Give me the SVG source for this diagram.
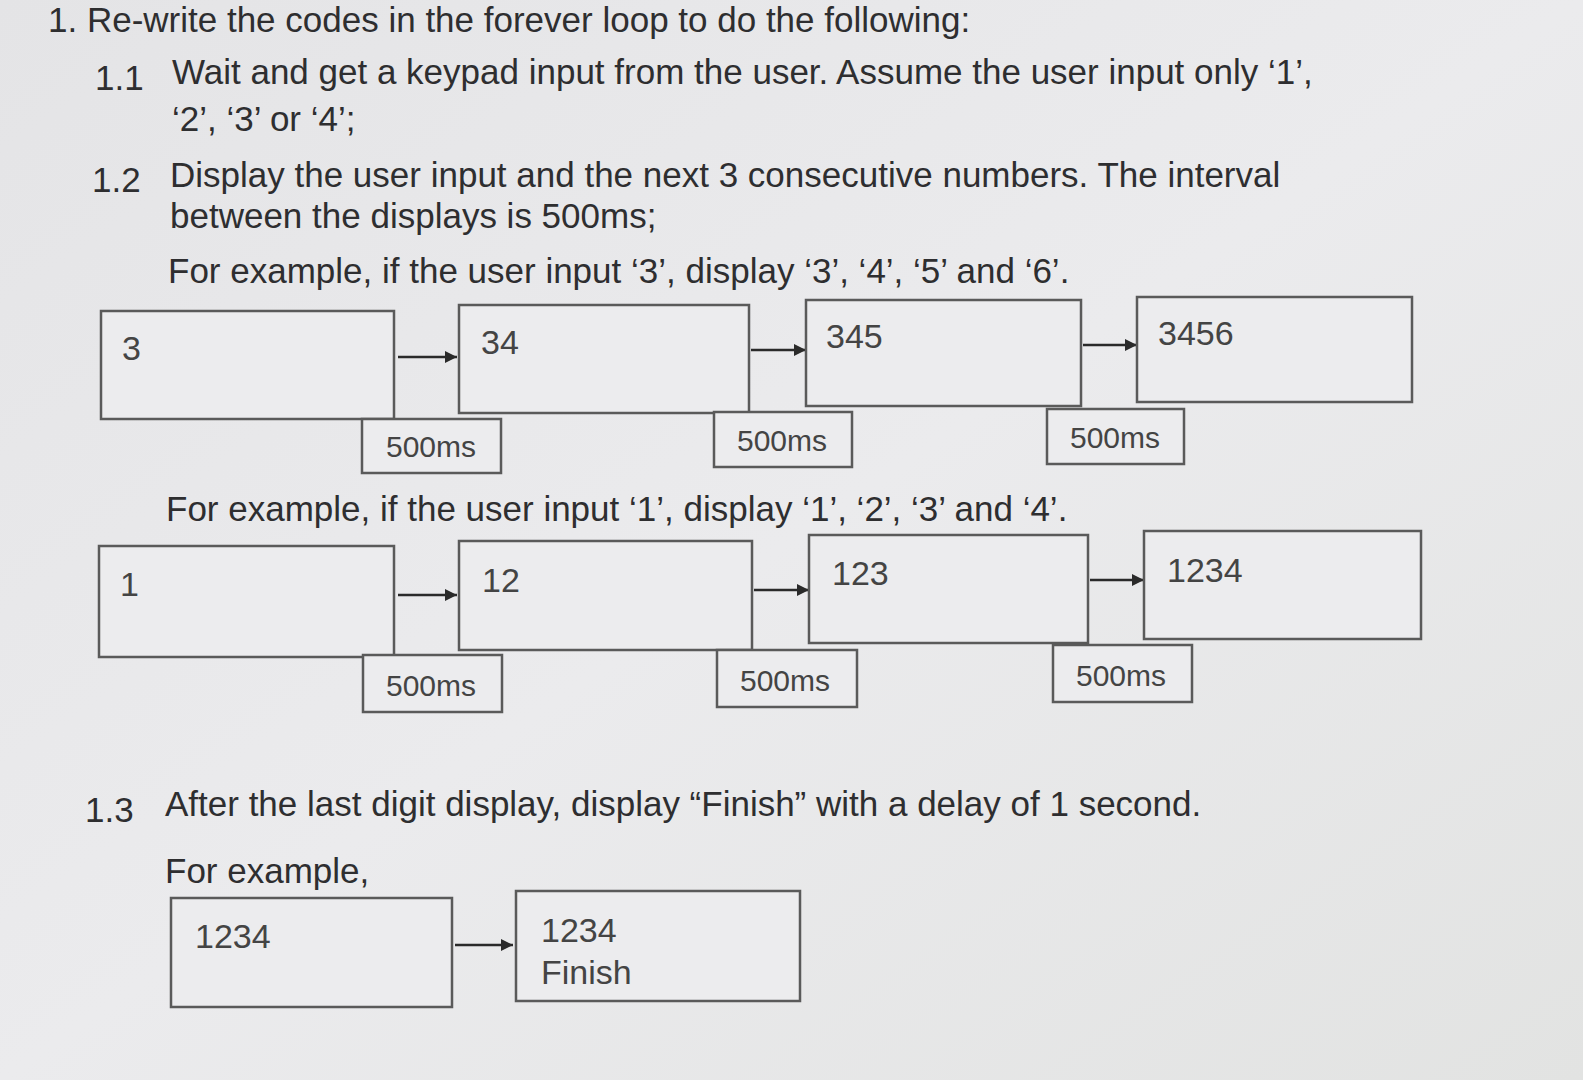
<svg xmlns="http://www.w3.org/2000/svg" width="1583" height="1080" viewBox="0 0 1583 1080">
<defs>
<linearGradient id="bg" x1="0" y1="0" x2="1" y2="1">
<stop offset="0" stop-color="#e4e4e6"/><stop offset="0.5" stop-color="#ebebed"/><stop offset="1" stop-color="#e2e3e2"/>
</linearGradient>
<marker id="ah" viewBox="0 0 10 10" refX="10" refY="5" markerWidth="5" markerHeight="5" orient="auto"><path d="M0,0L10,5L0,10z" fill="#2a2a2a"/></marker>
<style>
text{font-family:"Liberation Sans",Arial,sans-serif;fill:#2e2e30}
.t{font-size:35px}
.b{font-size:34px;fill:#444}
.m{font-size:30px;fill:#444}
.box{fill:#ececee;stroke:#5a5a5a;stroke-width:2.5}
.con{stroke:#2a2a2a;stroke-width:2.5;fill:none;marker-end:url(#ah)}
</style>
</defs>
<rect width="1583" height="1080" fill="url(#bg)"/>
<g id="text">
<text class="t" x="48" y="32">1.  Re-write the codes in the forever loop to do the following:</text>
<text class="t" x="95" y="90">1.1</text>
<text class="t" x="172" y="84">Wait and get a keypad input from the user. Assume the user input only ‘1’,</text>
<text class="t" x="172" y="131">‘2’, ‘3’ or ‘4’;</text>
<text class="t" x="92" y="192">1.2</text>
<text class="t" x="170" y="187">Display the user input and the next 3 consecutive numbers. The interval</text>
<text class="t" x="170" y="228">between the displays is 500ms;</text>
<text class="t" x="168" y="283">For example, if the user input ‘3’, display ‘3’, ‘4’, ‘5’ and ‘6’.</text>
<text class="t" x="166" y="521">For example, if the user input ‘1’, display ‘1’, ‘2’, ‘3’ and ‘4’.</text>
<text class="t" x="85" y="822">1.3</text>
<text class="t" x="165" y="816">After the last digit display, display “Finish” with a delay of 1 second.</text>
<text class="t" x="165" y="883">For example,</text>
</g>
<g id="connectors">
<line class="con" x1="398" y1="357" x2="457" y2="357"/>
<line class="con" x1="751" y1="350" x2="806" y2="350"/>
<line class="con" x1="1083" y1="345" x2="1137" y2="345"/>
<line class="con" x1="398" y1="595" x2="457" y2="595"/>
<line class="con" x1="754" y1="590" x2="809" y2="590"/>
<line class="con" x1="1090" y1="580" x2="1144" y2="580"/>
<line class="con" x1="455" y1="945" x2="513" y2="945"/>
</g>
<g id="r1a"><rect class="box" x="101" y="311" width="293" height="108"/><text class="b" x="122" y="360">3</text></g>
<g id="r1b"><rect class="box" x="459" y="305" width="290" height="108"/><text class="b" x="481" y="354">34</text></g>
<g id="r1c"><rect class="box" x="806" y="300" width="275" height="106"/><text class="b" x="826" y="348">345</text></g>
<g id="r1d"><rect class="box" x="1137" y="297" width="275" height="105"/><text class="b" x="1158" y="345">3456</text></g>
<g id="r1t1"><rect class="box" x="362" y="419" width="139" height="54"/><text class="m" x="386" y="457">500ms</text></g>
<g id="r1t2"><rect class="box" x="714" y="412" width="138" height="55"/><text class="m" x="737" y="451">500ms</text></g>
<g id="r1t3"><rect class="box" x="1047" y="409" width="137" height="55"/><text class="m" x="1070" y="448">500ms</text></g>
<g id="r2a"><rect class="box" x="99" y="546" width="295" height="111"/><text class="b" x="120" y="596">1</text></g>
<g id="r2b"><rect class="box" x="459" y="541" width="293" height="109"/><text class="b" x="482" y="592">12</text></g>
<g id="r2c"><rect class="box" x="809" y="535" width="279" height="108"/><text class="b" x="832" y="585">123</text></g>
<g id="r2d"><rect class="box" x="1144" y="531" width="277" height="108"/><text class="b" x="1167" y="582">1234</text></g>
<g id="r2t1"><rect class="box" x="363" y="655" width="139" height="57"/><text class="m" x="386" y="696">500ms</text></g>
<g id="r2t2"><rect class="box" x="717" y="650" width="140" height="57"/><text class="m" x="740" y="691">500ms</text></g>
<g id="r2t3"><rect class="box" x="1053" y="645" width="139" height="57"/><text class="m" x="1076" y="686">500ms</text></g>
<g id="f1"><rect class="box" x="171" y="898" width="281" height="109"/><text class="b" x="195" y="948">1234</text></g>
<g id="f2"><rect class="box" x="516" y="891" width="284" height="110"/><text class="b" x="541" y="942">1234</text><text class="b" x="541" y="984">Finish</text></g>
</svg>
